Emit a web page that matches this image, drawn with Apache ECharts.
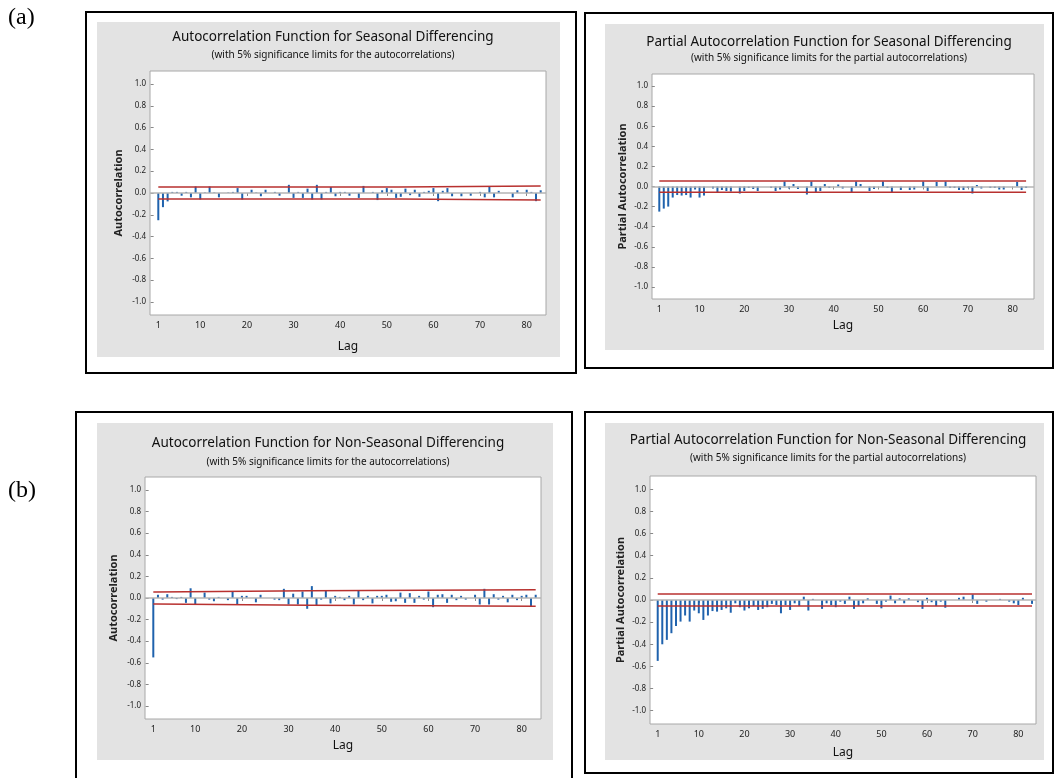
<!DOCTYPE html>
<html>
<head>
<meta charset="utf-8">
<script src="https://cdn.jsdelivr.net/npm/echarts@6/dist/echarts.min.js"></script>
<style>
  html, body { margin: 0; padding: 0; background: #fff; }
  #chart { width: 1054px; height: 778px; }
</style>
</head>
<body>
<div id="chart"></div>
<script>
// Spike heights, lag 1..83
const acfSeasonal = [
  -0.25, -0.13, -0.077, 0.01, 0.01, -0.025, 0.01, -0.04, 0.06, -0.06,
  0.005, 0.06, 0.005, -0.04, 0.0, 0.005, 0.01, 0.045, -0.06, 0.0,
  0.03, 0.005, -0.03, 0.03, 0.0, 0.01, -0.025, 0.0, 0.075, -0.045,
  0.01, -0.045, 0.04, -0.06, 0.075, -0.06, 0.01, 0.055, -0.03, 0.01,
  0.01, -0.025, 0.0, -0.045, 0.065, 0.0, 0.01, -0.065, 0.025, 0.045,
  0.03, -0.045, -0.035, 0.04, -0.02, 0.03, -0.035, 0.01, 0.02, 0.045,
  -0.075, 0.02, 0.045, -0.03, 0.0, -0.03, 0.0, -0.025, 0.0, 0.01,
  -0.04, 0.06, -0.04, 0.02, 0.0, 0.0, -0.04, 0.025, 0.0, 0.03,
  0.01, -0.075, 0.025
];
const pacfSeasonal = [
  -0.25, -0.22, -0.20, -0.11, -0.085, -0.09, -0.085, -0.11, -0.03, -0.11,
  -0.09, 0.0, -0.02, -0.055, -0.035, -0.045, -0.05, 0.0, -0.07, -0.045,
  -0.015, -0.025, -0.045, 0.0, 0.0, -0.015, -0.045, -0.03, 0.05, -0.02,
  0.025, -0.025, 0.0, -0.08, 0.05, -0.055, -0.045, 0.025, -0.015, 0.0,
  0.02, -0.02, 0.0, -0.055, 0.05, 0.025, 0.0, -0.045, -0.025, 0.0,
  0.05, -0.015, -0.055, 0.0, -0.035, 0.0, -0.035, -0.03, 0.0, 0.05,
  -0.045, 0.0, 0.045, 0.0, 0.05, -0.015, -0.015, -0.035, -0.035, -0.015,
  -0.07, 0.015, -0.02, 0.0, -0.015, -0.015, -0.03, -0.03, 0.0, 0.0,
  0.045, -0.035, -0.015
];
const acfNonSeasonal = [
  -0.55, 0.03, -0.015, 0.035, 0.01, -0.01, 0.01, -0.045, 0.09, -0.065,
  0.0, 0.05, -0.015, -0.03, 0.01, 0.0, -0.02, 0.065, -0.065, 0.02,
  0.02, 0.0, -0.04, 0.03, 0.0, 0.0, -0.015, -0.02, 0.085, -0.06,
  0.04, -0.06, 0.06, -0.10, 0.11, -0.07, -0.015, 0.065, -0.05, 0.02,
  0.01, -0.02, 0.02, -0.06, 0.065, -0.02, 0.02, -0.05, 0.02, 0.02,
  0.03, -0.035, -0.03, 0.05, -0.045, 0.045, -0.045, 0.02, -0.015, 0.06,
  -0.085, 0.03, 0.035, -0.045, 0.03, -0.02, 0.02, -0.015, 0.0, 0.03,
  -0.06, 0.085, -0.06, 0.035, -0.015, 0.02, -0.04, 0.03, -0.02, 0.02,
  0.03, -0.075, 0.03
];
const pacfNonSeasonal = [
  -0.55, -0.40, -0.36, -0.30, -0.235, -0.195, -0.14, -0.195, -0.095, -0.12,
  -0.18, -0.14, -0.10, -0.105, -0.09, -0.075, -0.115, -0.03, -0.065, -0.095,
  -0.075, -0.055, -0.09, -0.08, -0.065, -0.035, -0.045, -0.12, -0.045, -0.09,
  -0.03, -0.055, 0.03, -0.095, 0.01, 0.0, -0.08, -0.03, -0.045, -0.065,
  -0.015, -0.035, 0.03, -0.08, -0.055, -0.03, 0.015, 0.0, -0.035, -0.075,
  -0.015, 0.04, -0.03, 0.015, -0.03, 0.015, 0.0, -0.02, -0.08, 0.02,
  -0.02, -0.055, -0.015, -0.07, 0.0, 0.0, 0.02, 0.03, 0.0, 0.05,
  -0.035, 0.0, -0.015, 0.0, 0.0, 0.01, 0.0, -0.015, -0.03, -0.045,
  0.02, 0.0, -0.035
];

// 5% significance limits as [lag, value] points
const acfSeasUpper = [[1, 0.055], [52.5, 0.055], [52.5, 0.065], [83, 0.065]];
const acfSeasLower = [[1, -0.055], [52.5, -0.055], [52.5, -0.065], [83, -0.065]];
const pacfSeasUpper = [[1, 0.056], [83, 0.056]];
const pacfSeasLower = [[1, -0.056], [83, -0.056]];
const acfNonUpper = [[1, 0.056], [1.6, 0.056], [1.6, 0.066], [34.5, 0.066], [34.5, 0.077], [83, 0.077]];
const acfNonLower = [[1, -0.056], [1.6, -0.056], [1.6, -0.066], [34.5, -0.066], [34.5, -0.077], [83, -0.077]];
const pacfNonUpper = [[1, 0.055], [83, 0.055]];
const pacfNonLower = [[1, -0.055], [83, -0.055]];

const xTicks = [1, 10, 20, 30, 40, 50, 60, 70, 80];
const yTicks = [-1.0, -0.8, -0.6, -0.4, -0.2, 0.0, 0.2, 0.4, 0.6, 0.8, 1.0];

const titles = [
  'Autocorrelation Function for Seasonal Differencing',
  'Partial Autocorrelation Function for Seasonal Differencing',
  'Autocorrelation Function for Non-Seasonal Differencing',
  'Partial Autocorrelation Function for Non-Seasonal Differencing'
];
const subtitles = [
  '(with 5% significance limits for the autocorrelations)',
  '(with 5% significance limits for the partial autocorrelations)',
  '(with 5% significance limits for the autocorrelations)',
  '(with 5% significance limits for the partial autocorrelations)'
];

const FONT = '"Noto Sans", "Open Sans", sans-serif';
const SPIKE = '#1f62ad';
const LIMIT = '#b8312f';

// layout of each Minitab panel
const panels = [
  { values: acfSeasonal, upper: acfSeasUpper, lower: acfSeasLower, yName: 'Autocorrelation',
    grid: { left: 150, top: 71, width: 396, height: 244 }, xMin: -0.78, xMax: 84.14,
    yGap: 26, xGap: 26, box: [86, 12, 490, 361], bg: [97, 22, 463, 335], titleX: 333, titleY: 37, subY: 55 },
  { values: pacfSeasonal, upper: pacfSeasUpper, lower: pacfSeasLower, yName: 'Partial Autocorrelation',
    grid: { left: 652, top: 74, width: 382, height: 225 }, xMin: -0.63, xMax: 84.77,
    yGap: 24, xGap: 21, box: [585, 13, 468, 355], bg: [605, 24, 439, 326], titleX: 829, titleY: 42, subY: 58 },
  { values: acfNonSeasonal, upper: acfNonUpper, lower: acfNonLower, yName: 'Autocorrelation',
    grid: { left: 145, top: 477, width: 396, height: 242 }, xMin: -0.78, xMax: 84.14,
    yGap: 26, xGap: 21, box: [76, 412, 496, 372], bg: [97, 423, 456, 337], titleX: 328, titleY: 443, subY: 462 },
  { values: pacfNonSeasonal, upper: pacfNonUpper, lower: pacfNonLower, yName: 'Partial Autocorrelation',
    grid: { left: 650, top: 476, width: 386, height: 248 }, xMin: -0.69, xMax: 83.87,
    yGap: 24, xGap: 23, box: [585, 412, 468, 361], bg: [605, 423, 439, 337], titleX: 828, titleY: 440, subY: 458 }
];

const chart = echarts.init(document.getElementById('chart'), null, { renderer: 'canvas' });

const grids = [], xAxes = [], yAxes = [], series = [], graphics = [];

panels.forEach((p, i) => {
  graphics.push({
    type: 'rect', z: -2,
    shape: { x: p.bg[0], y: p.bg[1], width: p.bg[2], height: p.bg[3] },
    style: { fill: '#e3e3e3' }
  });
  graphics.push({
    type: 'rect', z: -2,
    shape: { x: p.box[0], y: p.box[1], width: p.box[2], height: p.box[3] },
    style: { fill: 'none', stroke: '#000', lineWidth: 2 }
  });
  graphics.push({
    type: 'text', z: 10,
    style: { text: titles[i], x: p.titleX, y: p.titleY, align: 'center', verticalAlign: 'middle',
      font: '13.5px ' + FONT, fill: '#111' }
  });
  graphics.push({
    type: 'text', z: 10,
    style: { text: subtitles[i], x: p.titleX, y: p.subY, align: 'center', verticalAlign: 'middle',
      font: '10px ' + FONT, fill: '#111' }
  });

  grids.push(Object.assign({ show: true, backgroundColor: '#fff', borderColor: '#a8a8a8', borderWidth: 1 }, p.grid));

  xAxes.push({
    type: 'value', gridIndex: i, min: p.xMin, max: p.xMax,
    name: 'Lag', nameLocation: 'middle', nameGap: p.xGap,
    nameTextStyle: { fontFamily: FONT, fontSize: 12, color: '#111' },
    axisLine: { show: false },
    axisTick: { show: true, length: 3, customValues: xTicks, lineStyle: { color: '#888' } },
    axisLabel: { customValues: xTicks, fontFamily: FONT, fontSize: 9, color: '#222', margin: 6 },
    splitLine: { show: false }
  });

  yAxes.push({
    type: 'value', gridIndex: i, min: -1.12, max: 1.12,
    name: p.yName, nameLocation: 'middle', nameGap: p.yGap, nameRotate: 90,
    nameTextStyle: { fontFamily: FONT, fontSize: 11, fontWeight: 'bold', color: '#222' },
    axisLine: { show: false },
    axisTick: { show: true, length: 3, customValues: yTicks, lineStyle: { color: '#888' } },
    axisLabel: { customValues: yTicks, fontFamily: FONT, fontSize: 8, color: '#222', margin: 4,
      formatter: v => v.toFixed(1) },
    splitLine: { show: false }
  });

  series.push({
    type: 'bar', xAxisIndex: i, yAxisIndex: i, barWidth: 2,
    data: p.values.map((v, k) => [k + 1, v]),
    itemStyle: { color: SPIKE },
    silent: true,
    markLine: {
      silent: true, symbol: ['none', 'none'], label: { show: false },
      lineStyle: { color: '#b5b5b5', width: 1.5, type: 'solid' },
      data: [{ yAxis: 0 }]
    }
  });
  series.push({
    type: 'line', xAxisIndex: i, yAxisIndex: i, data: p.upper, symbol: 'none', silent: true,
    lineStyle: { color: LIMIT, width: 1.5 }
  });
  series.push({
    type: 'line', xAxisIndex: i, yAxisIndex: i, data: p.lower, symbol: 'none', silent: true,
    lineStyle: { color: LIMIT, width: 1.5 }
  });
});

graphics.push({ type: 'text', z: 10,
  style: { text: '(a)', x: 8, y: 6, font: '24px "Liberation Serif", serif', fill: '#000' } });
graphics.push({ type: 'text', z: 10,
  style: { text: '(b)', x: 8, y: 479, font: '24px "Liberation Serif", serif', fill: '#000' } });

chart.setOption({
  backgroundColor: '#fff',
  animation: false,
  graphic: graphics,
  grid: grids,
  xAxis: xAxes,
  yAxis: yAxes,
  series: series
});
</script>
</body>
</html>
